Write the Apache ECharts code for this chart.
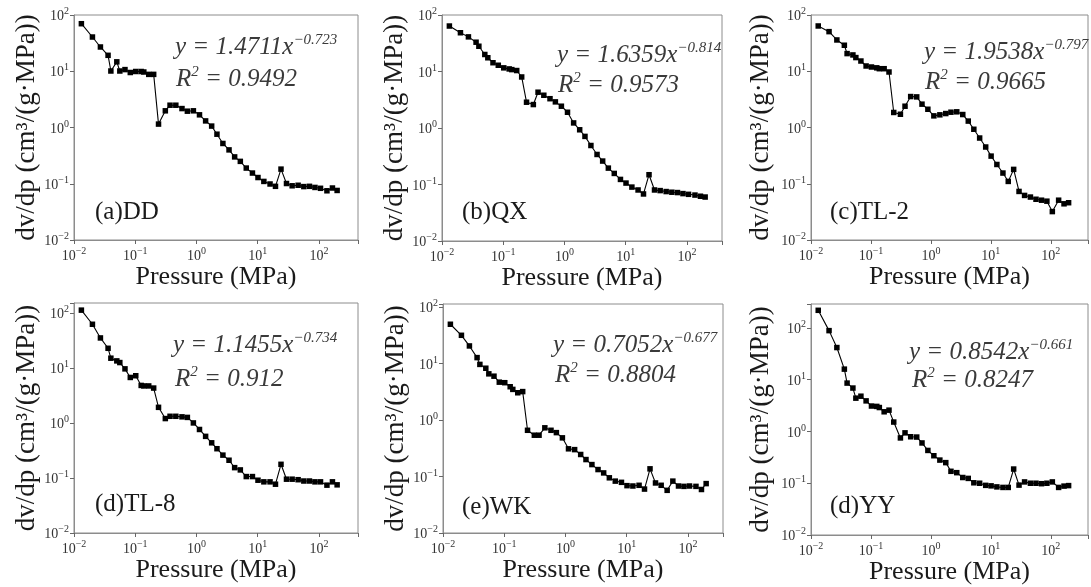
<!DOCTYPE html>
<html><head><meta charset="utf-8">
<script src="https://cdn.jsdelivr.net/npm/echarts@6/dist/echarts.min.js"></script>
<style>html,body{margin:0;padding:0;background:#fff}#c{width:1091px;height:587px}</style>
</head><body><div id="c"></div>
<script>
// ---- data ----
const pressure = [0.0132, 0.020, 0.027, 0.036, 0.040, 0.050, 0.056, 0.068, 0.083, 0.102, 0.125, 0.138, 0.166, 0.20, 0.24, 0.31, 0.37, 0.46, 0.58, 0.71, 0.89, 1.12, 1.41, 1.77, 2.16, 2.7, 3.4, 4.2, 5.2, 6.5, 8.2, 10.1, 12.6, 15.9, 19.5, 24, 29.5, 36.5, 45.7, 56.6, 70, 86, 106, 135, 166, 198];
const valDD = [70, 40.6, 27, 19.2, 10.1, 14.7, 10.1, 10.7, 9.5, 9.9, 9.9, 9.7, 8.8, 8.8, 1.15, 1.98, 2.49, 2.49, 2.17, 1.95, 1.98, 1.68, 1.31, 1.06, 0.76, 0.52, 0.40, 0.30, 0.25, 0.19, 0.155, 0.129, 0.11, 0.099, 0.090, 0.182, 0.101, 0.092, 0.094, 0.089, 0.090, 0.086, 0.083, 0.075, 0.084, 0.076];
const valQX = [63.8, 48.5, 41, 33, 28, 20, 17.5, 14.3, 12.9, 11.6, 11.1, 10.8, 10.4, 8.0, 2.86, 2.6, 4.3, 3.8, 3.3, 2.9, 2.43, 1.9, 1.23, 0.93, 0.71, 0.49, 0.34, 0.26, 0.195, 0.157, 0.123, 0.106, 0.090, 0.080, 0.068, 0.149, 0.080, 0.078, 0.075, 0.073, 0.072, 0.069, 0.067, 0.065, 0.062, 0.060];
const valTL2 = [63.8, 50.6, 36, 29, 20.6, 19.5, 17.5, 15.2, 12.4, 11.9, 11.5, 11.1, 11.1, 9.7, 1.85, 1.72, 2.39, 3.55, 3.5, 2.6, 2.11, 1.61, 1.68, 1.77, 1.87, 1.9, 1.7, 1.3, 0.93, 0.65, 0.45, 0.31, 0.22, 0.155, 0.11, 0.18, 0.073, 0.062, 0.058, 0.053, 0.051, 0.049, 0.032, 0.051, 0.044, 0.046];
const valTL8 = [112, 62, 35, 22.7, 15, 13.4, 12.5, 9.6, 6.7, 7.2, 4.8, 4.7, 4.7, 4.3, 1.92, 1.2, 1.32, 1.32, 1.29, 1.26, 1.0, 0.76, 0.57, 0.435, 0.34, 0.26, 0.21, 0.154, 0.14, 0.106, 0.106, 0.091, 0.085, 0.085, 0.077, 0.177, 0.095, 0.095, 0.093, 0.088, 0.088, 0.085, 0.085, 0.074, 0.085, 0.075];
const valWK = [49.9, 31.8, 20.6, 12.8, 9.7, 8.3, 6.6, 6.0, 4.7, 4.6, 3.9, 3.5, 3.05, 3.2, 0.66, 0.54, 0.54, 0.73, 0.66, 0.60, 0.485, 0.31, 0.30, 0.246, 0.20, 0.163, 0.133, 0.116, 0.095, 0.083, 0.079, 0.069, 0.068, 0.070, 0.060, 0.137, 0.077, 0.070, 0.057, 0.083, 0.068, 0.067, 0.068, 0.067, 0.059, 0.075];
const valYY = [219, 88.7, 41.8, 16, 8.6, 6.9, 4.4, 4.8, 3.9, 3.1, 3.05, 2.9, 2.4, 2.58, 1.52, 0.75, 0.94, 0.79, 0.78, 0.60, 0.43, 0.34, 0.28, 0.25, 0.17, 0.16, 0.129, 0.124, 0.102, 0.100, 0.091, 0.089, 0.085, 0.083, 0.083, 0.188, 0.092, 0.106, 0.1, 0.1, 0.098, 0.1, 0.106, 0.083, 0.088, 0.09];
const sampleLabels = ['(a)DD', '(b)QX', '(c)TL-2', '(d)TL-8', '(e)WK', '(d)YY'];
const fitCoef = ['1.4711', '1.6359', '1.9538', '1.1455', '0.7052', '0.8542'];
const fitExp = ['\u22120.723', '\u22120.814', '\u22120.797', '\u22120.734', '\u22120.677', '\u22120.661'];
const fitR2 = ['0.9492', '0.9573', '0.9665', '0.912', '0.8804', '0.8247'];
const xTitle = 'Pressure (MPa)';
const yTitle = 'dv/dp (cm\u00b3/(g\u00b7MPa))';
const xMin = 0.01;
const xMaxs = [434, 373, 417, 434, 373, 417];
const yMin = 0.01;
const yMaxs = [100, 100, 100, 151, 114, 290];

const allValues = [valDD, valQX, valTL2, valTL8, valWK, valYY];

// ---- layout (pixels) ----
const layout = [
  {grid: {left: 74, top: 15, width: 284, height: 225}, ng: 33, xg: 17, eq: [175, 33], r2: [176, 65], lab: [95, 200]},
  {grid: {left: 442, top: 15, width: 280, height: 226}, ng: 28, xg: 17, eq: [557, 41], r2: [558, 71], lab: [462, 200]},
  {grid: {left: 811, top: 15, width: 282, height: 225}, ng: 37, xg: 17, eq: [924, 38], r2: [925, 68], lab: [830, 200]},
  {grid: {left: 74, top: 303, width: 284, height: 230}, ng: 33, xg: 19, eq: [173, 331], r2: [175, 365], lab: [95, 492]},
  {grid: {left: 443, top: 304, width: 280, height: 229}, ng: 28, xg: 19, eq: [553, 331], r2: [555, 361], lab: [462, 495]},
  {grid: {left: 811, top: 304, width: 282, height: 231}, ng: 37, xg: 17, eq: [909, 338], r2: [912, 366], lab: [830, 494]}
];

const FONT = '"Liberation Serif", "Times New Roman", serif';
function isPow10(v) {
  const e = Math.round(Math.log10(v));
  return Math.abs(v - Math.pow(10, e)) < 1e-6 * v;
}
function logLabel(v) {
  if (!isPow10(v)) return '';
  const e = Math.round(Math.log10(v));
  return '{b|10}{e|' + (e < 0 ? '\u2212' + (-e) : e) + '}';
}
const labelRich = {
  b: {fontSize: 14, fontFamily: FONT, color: '#333', verticalAlign: 'bottom', lineHeight: 17},
  e: {fontSize: 10, fontFamily: FONT, color: '#333', verticalAlign: 'top', lineHeight: 17}
};

const grids = [], xAxes = [], yAxes = [], series = [], graphics = [];
layout.forEach((L, i) => {
  grids.push(Object.assign({show: true, borderColor: '#8c8c8c', borderWidth: 1, backgroundColor: '#fff'}, L.grid));
  xAxes.push({
    type: 'log', logBase: 10, gridIndex: i, min: xMin, max: xMaxs[i],
    name: xTitle, nameLocation: 'middle', nameGap: L.xg,
    nameTextStyle: {fontFamily: FONT, fontSize: 26, color: '#1a1a1a'},
    axisLine: {show: true, lineStyle: {color: '#8c8c8c', width: 1}},
    axisTick: {show: true, length: 4, lineStyle: {color: '#666'}},
    minorTick: {show: false},
    splitLine: {show: false},
    axisLabel: {formatter: logLabel, rich: labelRich, margin: 6}
  });
  yAxes.push({
    type: 'log', logBase: 10, gridIndex: i, min: yMin, max: yMaxs[i],
    name: yTitle, nameLocation: 'middle', nameGap: L.ng,
    nameTextStyle: {fontFamily: FONT, fontSize: 27, color: '#1a1a1a'},
    axisLine: {show: true, lineStyle: {color: '#8c8c8c', width: 1}},
    axisTick: {show: true, length: 4, lineStyle: {color: '#666'}},
    minorTick: {show: false},
    splitLine: {show: false},
    axisLabel: {formatter: logLabel, rich: labelRich, margin: 5}
  });
  series.push({
    type: 'line', xAxisIndex: i, yAxisIndex: i,
    data: pressure.map((p, k) => [p, allValues[i][k]]),
    symbol: 'rect', symbolSize: 5.5,
    itemStyle: {color: '#000'},
    lineStyle: {color: '#000', width: 1.1},
    animation: false
  });
  const eqRich = {
    m: {fontSize: 25, fontStyle: 'italic', fontFamily: FONT, fill: '#3a3a3a', verticalAlign: 'bottom', lineHeight: 27},
    s: {fontSize: 15, fontStyle: 'italic', fontFamily: FONT, fill: '#3a3a3a', verticalAlign: 'top', lineHeight: 27}
  };
  graphics.push({
    type: 'text', left: L.eq[0], top: L.eq[1], z: 100,
    style: {text: '{m|y = ' + fitCoef[i] + 'x}{s|' + fitExp[i] + '}', rich: eqRich}
  });
  graphics.push({
    type: 'text', left: L.r2[0], top: L.r2[1], z: 100,
    style: {text: '{m|R}{s|2}{m| = ' + fitR2[i] + '}', rich: eqRich}
  });
  graphics.push({
    type: 'text', left: L.lab[0], top: L.lab[1], z: 100,
    style: {text: sampleLabels[i], fontSize: 25, fontFamily: FONT, fill: '#1a1a1a'}
  });
});

const chart = echarts.init(document.getElementById('c'), null, {renderer: 'canvas'});
chart.setOption({
  animation: false,
  backgroundColor: '#fff',
  grid: grids, xAxis: xAxes, yAxis: yAxes, series: series,
  graphic: graphics
});
</script></body></html>
